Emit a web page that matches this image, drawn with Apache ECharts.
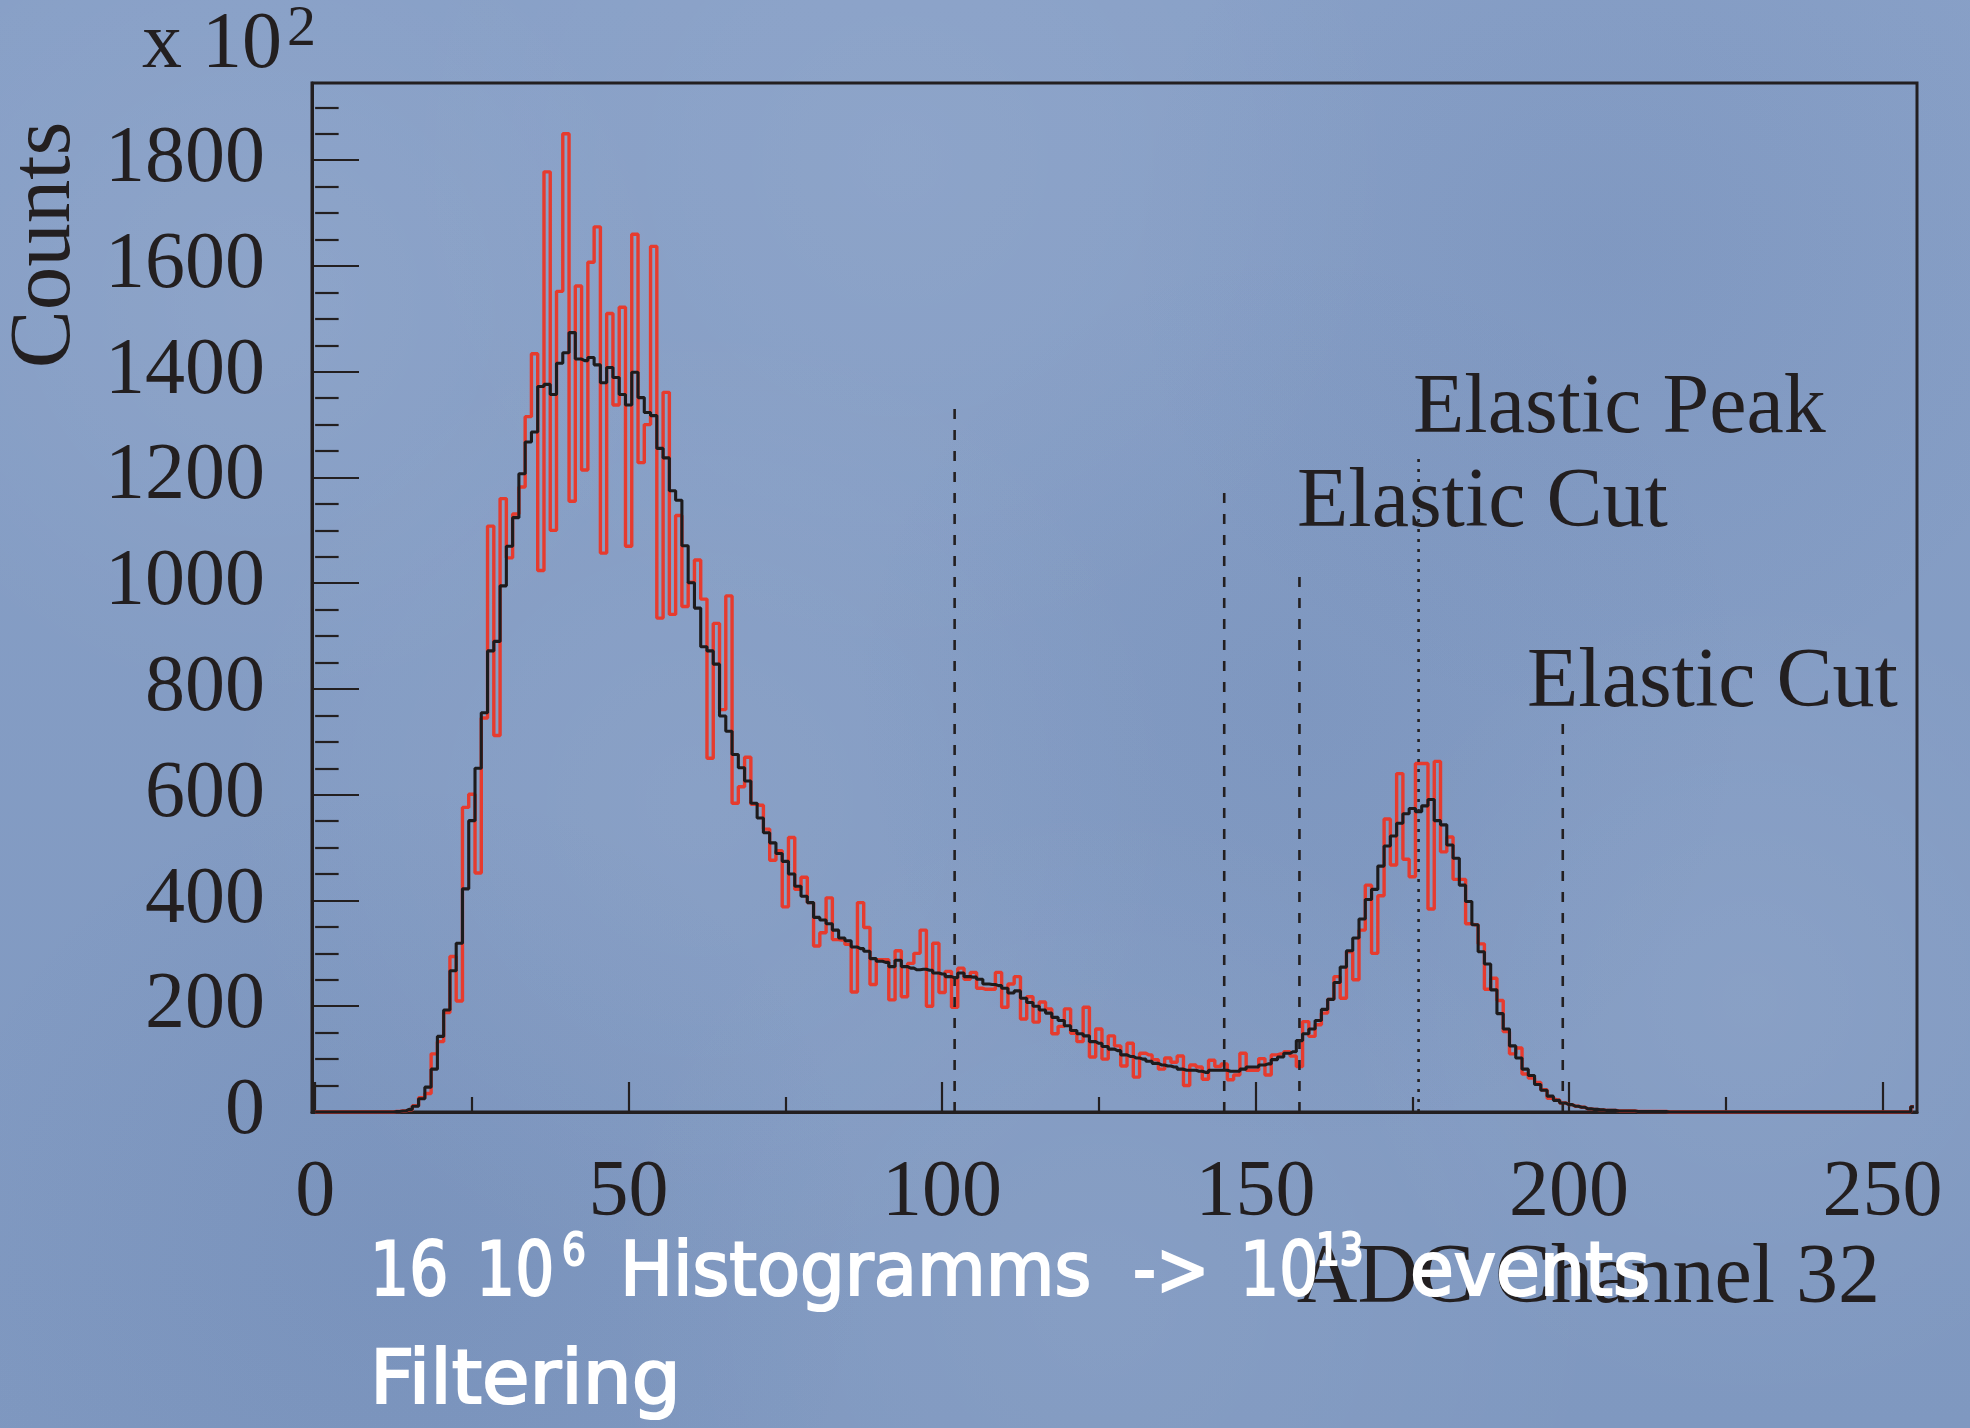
<!DOCTYPE html>
<html>
<head>
<meta charset="utf-8">
<title>ADC Channel 32</title>
<script src="https://cdn.jsdelivr.net/npm/echarts@6/dist/echarts.min.js"></script>
<style>
  html, body { margin: 0; padding: 0; background: #869ec5; }
  #chart { width: 1970px; height: 1428px; }
</style>
</head>
<body>
<div id="chart"></div>
<script>
// ADC spectrum of channel 32, one bin per ADC channel (0..255), counts in units of 10^2.
// Raw spectrum (red)
const rawCounts = [
  0,0,0,0,0,0,0,0,0,0,0,0,0,1,2,4,
  12,27,35,110,133,188,294,210,576,601,452,745,1108,712,1160,1048,
  1131,1182,1315,1434,1024,1778,1100,1552,1850,1155,1562,1214,1607,1674,1057,1510,
  1337,1522,1070,1660,1228,1300,1637,934,1361,941,1128,956,1002,1044,970,669,
  924,761,976,584,615,671,582,580,535,476,494,388,519,421,444,396,
  314,339,405,326,325,317,227,396,349,241,288,288,212,305,218,281,
  300,344,200,319,226,266,198,272,251,264,234,232,232,264,198,242,
  256,176,218,170,208,195,148,162,195,149,133,198,104,157,100,144,
  125,87,130,66,111,108,99,81,102,94,106,50,89,85,62,98,
  86,91,61,70,111,79,79,101,70,108,110,114,106,86,171,143,
  165,187,213,256,215,303,250,344,429,300,409,554,467,640,478,445,
  659,659,384,663,492,520,440,440,356,354,318,232,253,211,152,110,
  121,72,64,56,42,26,23,17,14,11,9,6,5,4,3,3,
  2,2,2,1,1,1,1,1,0,0,0,0,0,0,0,0,
  0,0,0,0,0,0,0,0,0,0,0,0,0,0,0,0,
  0,0,0,0,0,0,0,0,0,0,0,0,0,0,0,10
];

// Filtered spectrum (black)
const filteredCounts = [
  0,0,0,0,0,0,0,0,0,0,0,0,0,1,2,5,
  11,25,47,81,143,193,267,319,422,551,650,755,872,890,995,1070,
  1124,1207,1267,1286,1372,1376,1357,1416,1436,1474,1424,1421,1427,1413,1379,1408,
  1389,1357,1337,1399,1351,1323,1317,1255,1237,1175,1157,1071,1001,953,880,872,
  847,749,720,676,651,626,584,556,528,509,489,474,450,427,408,396,
  368,363,356,344,329,324,312,309,304,290,285,283,275,287,275,272,
  269,270,268,263,261,256,254,263,256,255,251,242,241,239,234,225,
  229,215,207,200,193,187,179,173,163,154,148,144,133,130,124,119,
  116,108,105,102,100,96,92,89,87,85,81,79,79,77,75,79,
  79,79,77,77,81,85,85,89,91,99,104,111,114,135,148,157,
  173,194,213,245,274,305,329,365,402,421,465,503,522,546,564,574,
  568,579,591,551,543,505,480,429,398,354,303,280,231,186,157,125,
  102,81,69,52,41,30,22,17,14,11,9,6,5,4,3,3,
  2,2,2,1,1,1,1,1,0,0,0,0,0,0,0,0,
  0,0,0,0,0,0,0,0,0,0,0,0,0,0,0,0,
  0,0,0,0,0,0,0,0,0,0,0,0,0,0,0,10
];

// Axis ranges and ticks
const channelRange = [-0.5, 255.5];
const countsMax = 1946;
const xMajorTicks = [0, 50, 100, 150, 200, 250];
const xMinorTicks = [25, 75, 125, 175, 225];
const yMajorTicks = [0, 200, 400, 600, 800, 1000, 1200, 1400, 1600, 1800];
const yMinorTicks = [50, 100, 150, 250, 300, 350, 450, 500, 550, 650, 700, 750, 850, 900, 950,
  1050, 1100, 1150, 1250, 1300, 1350, 1450, 1500, 1550, 1650, 1700, 1750, 1850, 1900];

// Elastic cut markers (channel, marker height) and elastic peak marker
const cutChannels = [102, 145, 157, 199];
const cutHeights = [1331, 1181, 1022, 737];
const peakChannel = 176;
const peakHeight = 1248;

const ink = '#231f20';
const serif = '"Liberation Serif", "Times New Roman", serif';
const hand = '"DejaVu Sans", sans-serif';

const toPairs = arr => arr.map((v, i) => [i, v]);

function markerSeries(channel, height, dash) {
  return {
    type: 'line',
    data: [[channel, 0], [channel, height]],
    symbol: 'none',
    silent: true,
    z: 4,
    lineStyle: { color: ink, width: 2.6, type: dash }
  };
}

const chart = echarts.init(document.getElementById('chart'), null, { renderer: 'canvas' });

// soft mottled backdrop
const blobs = [
  [260, 300, 420, 'rgba(255,255,255,0.06)'],
  [900, 160, 520, 'rgba(255,255,255,0.05)'],
  [1600, 250, 480, 'rgba(40,70,130,0.07)'],
  [700, 800, 500, 'rgba(255,255,255,0.05)'],
  [1300, 700, 460, 'rgba(40,70,130,0.06)'],
  [1750, 1000, 420, 'rgba(255,255,255,0.06)'],
  [400, 1250, 480, 'rgba(40,70,130,0.07)'],
  [1100, 1300, 520, 'rgba(255,255,255,0.05)']
];
const backdrop = [{
  type: 'rect', z: -20, silent: true,
  shape: { x: 0, y: 0, width: 1970, height: 1428 },
  style: {
    fill: new echarts.graphic.LinearGradient(0, 0, 0, 1, [
      { offset: 0, color: '#88a0c7' },
      { offset: 1, color: '#7f98c0' }
    ])
  }
}].concat(blobs.map(([cx, cy, r, c]) => ({
  type: 'circle', z: -19, silent: true,
  shape: { cx, cy, r },
  style: {
    fill: new echarts.graphic.RadialGradient(0.5, 0.5, 0.5, [
      { offset: 0, color: c },
      { offset: 1, color: c.replace(/[\d.]+\)$/, '0)') }
    ])
  }
})));

function txt(text, x, y, size, opts) {
  return Object.assign({
    type: 'text', x, y, z: 50, silent: true,
    style: Object.assign({
      text, fill: ink, fontSize: size, fontFamily: serif,
      align: 'left', verticalAlign: 'middle'
    }, (opts && opts.style) || {})
  }, (opts && opts.el) || {});
}

function white(text, x, y, size, sx) {
  return {
    type: 'text', x, y, z: 80, silent: true, scaleX: sx || 1,
    style: {
      text, fill: '#ffffff', stroke: '#ffffff', lineWidth: 2.2,
      fontSize: size, fontFamily: hand, align: 'left', verticalAlign: 'middle'
    }
  };
}

const texts = [
  txt('x 10', 142, 46, 80),
  txt('2', 287, 30, 58),
  txt('Counts', 46, 245, 87, { el: { rotation: Math.PI / 2 }, style: { align: 'center' } }),
  txt('Elastic Peak', 1413, 410, 84),
  txt('Elastic Cut', 1297, 504, 84),
  txt('Elastic Cut', 1527, 684, 84),
  txt('ADC Channel 32', 1880, 1280, 84, { style: { align: 'right' } }),
  white('16', 370, 1276, 75, 0.82),
  white('10', 476, 1276, 75, 0.82),
  white('6', 562, 1254, 44, 0.85),
  white('Histogramms', 620, 1276, 75, 0.94),
  white('->', 1133, 1276, 75, 0.85),
  white('10', 1240, 1276, 75, 0.82),
  white('13', 1316, 1254, 44, 0.85),
  white('events', 1410, 1276, 75, 0.95),
  white('Filtering', 370, 1384, 75, 1.03)
];

const option = {
  animation: false,
  backgroundColor: 'transparent',
  grid: {
    left: 312, top: 83, width: 1605, height: 1029,
    show: true, borderColor: ink, borderWidth: 3, backgroundColor: 'transparent',
    containLabel: false, outerBoundsMode: 'none'
  },
  xAxis: [
    {
      type: 'value', min: channelRange[0], max: channelRange[1], position: 'bottom',
      axisLine: { show: true, onZero: false, lineStyle: { color: ink, width: 3 } },
      axisTick: { show: true, inside: true, length: 30, customValues: xMajorTicks, lineStyle: { color: ink, width: 2.2 } },
      axisLabel: { show: true, customValues: xMajorTicks, margin: 42, fontSize: 80, fontFamily: serif, color: ink,
                   formatter: v => String(v) },
      splitLine: { show: false }, minorTick: { show: false }
    },
    {
      type: 'value', min: channelRange[0], max: channelRange[1], position: 'bottom',
      axisLine: { show: false },
      axisTick: { show: true, inside: true, length: 15, customValues: xMinorTicks, lineStyle: { color: ink, width: 2.2 } },
      axisLabel: { show: false }, splitLine: { show: false }
    }
  ],
  yAxis: [
    {
      type: 'value', min: 0, max: countsMax, position: 'left',
      axisLine: { show: true, onZero: false, lineStyle: { color: ink, width: 3 } },
      axisTick: { show: true, inside: true, length: 47, customValues: yMajorTicks, lineStyle: { color: ink, width: 2.2 } },
      axisLabel: { show: true, customValues: yMajorTicks, margin: 47, fontSize: 80, fontFamily: serif, color: ink,
                   padding: [0, 0, 20, 0], formatter: v => String(v) },
      splitLine: { show: false }
    },
    {
      type: 'value', min: 0, max: countsMax, position: 'left',
      axisLine: { show: false },
      axisTick: { show: true, inside: true, length: 23.5, customValues: yMinorTicks, lineStyle: { color: ink, width: 2.2 } },
      axisLabel: { show: false }, splitLine: { show: false }
    }
  ],
  series: [
    {
      name: 'raw', type: 'line', step: 'middle', symbol: 'none', silent: true, z: 2,
      data: toPairs(rawCounts),
      lineStyle: { color: '#e63b2e', width: 3.4 }
    },
    {
      name: 'filtered', type: 'line', step: 'middle', symbol: 'none', silent: true, z: 3,
      data: toPairs(filteredCounts),
      lineStyle: { color: '#1d1b1c', width: 3.1 }
    },
    ...cutChannels.map((c, i) => markerSeries(c, cutHeights[i], [10, 11])),
    markerSeries(peakChannel, peakHeight, [3, 7])
  ],
  graphic: { elements: backdrop.concat(texts) }
};

chart.setOption(option);
</script>
</body>
</html>
